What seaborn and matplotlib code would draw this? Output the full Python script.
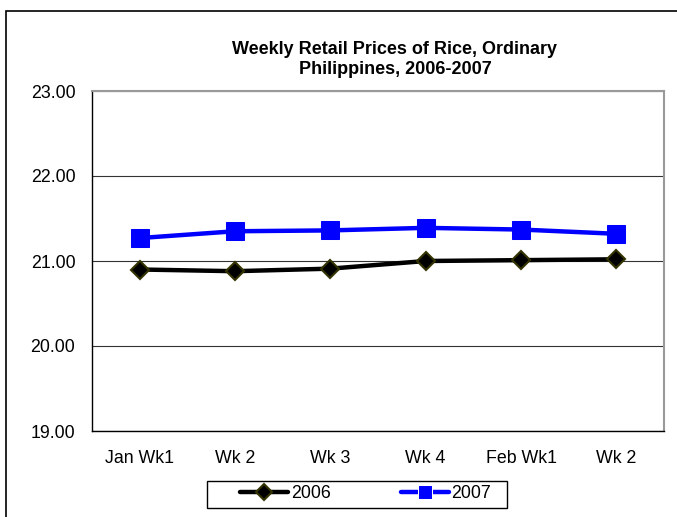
import pandas as pd
import matplotlib.pyplot as plt
import seaborn as sns
from matplotlib.patches import Rectangle

weeks = ["Jan Wk1", "Wk 2", "Wk 3", "Wk 4", "Feb Wk1", "Wk 2"]
prices_2006 = [20.90, 20.88, 20.91, 21.00, 21.01, 21.02]
prices_2007 = [21.27, 21.35, 21.36, 21.39, 21.37, 21.32]
y_ticks = [19.00, 20.00, 21.00, 22.00, 23.00]

df = pd.DataFrame({
    "pos": list(range(len(weeks))) * 2,
    "price": prices_2006 + prices_2007,
    "year": ["2006"] * len(weeks) + ["2007"] * len(weeks),
})

sns.set_style("white")
plt.rcParams["font.family"] = ["Liberation Sans", "DejaVu Sans"]
plt.rcParams["text.color"] = "black"
plt.rcParams["xtick.color"] = "black"
plt.rcParams["ytick.color"] = "black"

fs = 12.8
W, H = 677, 517
fig = plt.figure(figsize=(W / 100, H / 100), dpi=100)
ax = fig.add_axes([92 / W, 1 - 431 / H, (664 - 92) / W, (431 - 91) / H])

sns.lineplot(data=df, x="pos", y="price", hue="year", style="year",
             palette={"2006": "black", "2007": "#0000ff"},
             markers={"2006": "D", "2007": "s"}, dashes=False,
             linewidth=3.2, ax=ax, legend=True)

lines = ax.get_lines()
lines[0].set_markersize(9.5)
lines[0].set_markerfacecolor("black")
lines[0].set_markeredgecolor("#333300")
lines[0].set_markeredgewidth(1.5)
lines[1].set_markersize(12.5)
lines[1].set_markerfacecolor("#0000ff")
lines[1].set_markeredgecolor("#0000ff")

ax.set_xlim(-0.5, len(weeks) - 0.5)
ax.set_ylim(19, 23)
ax.set_yticks(y_ticks)
ax.set_yticklabels([f"{v:.2f}" for v in y_ticks], fontsize=fs, color="black")
ax.set_xticks(range(len(weeks)))
ax.set_xticklabels(weeks, fontsize=fs, color="black")
ax.set_xticks([i - 0.5 for i in range(len(weeks) + 1)], minor=True)
ax.tick_params(axis="x", which="major", length=0, pad=14)
ax.tick_params(axis="x", which="minor", length=5, width=1, color="black", direction="out")
ax.tick_params(axis="y", length=5, width=1, color="black", direction="out", pad=7)
ax.set_xlabel("")
ax.set_ylabel("")

ax.yaxis.grid(True, color="#333333", linewidth=0.8)
ax.set_axisbelow(True)
for side in ["left", "bottom"]:
    ax.spines[side].set_color("black")
    ax.spines[side].set_linewidth(1)
for side in ["top", "right"]:
    ax.spines[side].set_color("#999999")
    ax.spines[side].set_linewidth(1.5)

ax.set_title("Weekly Retail Prices of Rice, Ordinary\nPhilippines, 2006-2007",
             fontsize=13, fontweight="bold", pad=12, linespacing=1.25,
             color="black", x=(395 - 92) / (664 - 92))

handles, labels = ax.get_legend_handles_labels()
ax.legend_.remove()
leg = fig.legend(handles, labels, loc="center left",
                 bbox_to_anchor=(240 / W, 1 - 494 / H), ncol=2,
                 frameon=False, fontsize=fs, handlelength=2.7,
                 columnspacing=3.95, borderpad=0, borderaxespad=0,
                 handletextpad=0.15)
for h in leg.legend_handles:
    h.set_linewidth(3.2)
leg.legend_handles[0].set_markersize(8)
leg.legend_handles[0].set_markerfacecolor("black")
leg.legend_handles[0].set_markeredgecolor("#333300")
leg.legend_handles[0].set_markeredgewidth(1.5)
leg.legend_handles[1].set_markersize(10)

# legend box
fig.patches.append(Rectangle((207 / W, 1 - 508 / H), (507 - 207) / W, 27 / H,
                             transform=fig.transFigure, fill=False,
                             edgecolor="black", linewidth=1))

# outer chart border (only top/left visible in the reference)
fig.patches.append(Rectangle((6 / W, -0.1), 1.2, 1 - 11 / H + 0.1,
                             transform=fig.transFigure, fill=False,
                             edgecolor="black", linewidth=1.2))

plt.savefig("out.png", dpi=100)
